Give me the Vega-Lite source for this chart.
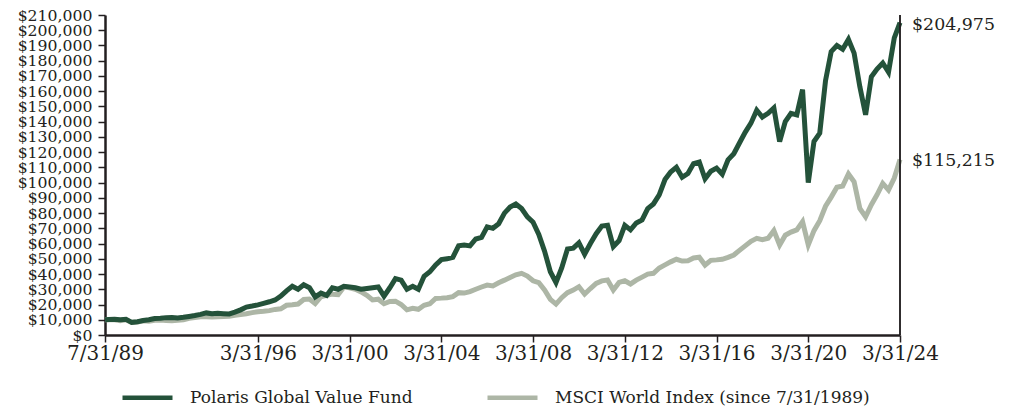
{
  "$schema": "https://vega.github.io/schema/vega-lite/v6.json",
  "width": 795,
  "height": 320,
  "autosize": "none",
  "padding": {"left": 105, "top": 15, "right": 111, "bottom": 74},
  "background": "white",
  "config": {
    "view": {"stroke": null},
    "font": "DejaVu Serif",
    "axis": {"labelFont": "DejaVu Serif", "labelColor": "#231f20", "tickColor": "#231f20", "domainColor": "#231f20", "domainWidth": 2.5, "tickWidth": 1.5, "tickSize": 7, "grid": false, "labelFlush": false, "labelOverlap": false, "title": null},
    "axisX": {"labelFontSize": 20, "labelPadding": 1},
    "axisY": {"labelFontSize": 15.7, "labelPadding": 6}
  },
  "datasets": {
    "q": [
      {"d":"1989-07-31","m":10000,"p":10000},
      {"d":"1989-09-30","m":10100,"p":10200},
      {"d":"1989-12-31","m":10000,"p":10300},
      {"d":"1990-03-31","m":9400,"p":10000},
      {"d":"1990-06-30","m":10000,"p":10300},
      {"d":"1990-09-30","m":8200,"p":8300},
      {"d":"1990-12-31","m":8500,"p":8700},
      {"d":"1991-03-31","m":9300,"p":9500},
      {"d":"1991-06-30","m":9100,"p":10000},
      {"d":"1991-09-30","m":9700,"p":10800},
      {"d":"1991-12-31","m":9800,"p":11000},
      {"d":"1992-03-31","m":9500,"p":11400},
      {"d":"1992-06-30","m":9400,"p":11500},
      {"d":"1992-09-30","m":9700,"p":11100},
      {"d":"1992-12-31","m":10000,"p":11600},
      {"d":"1993-03-31","m":11000,"p":12200},
      {"d":"1993-06-30","m":11500,"p":12800},
      {"d":"1993-09-30","m":12000,"p":13500},
      {"d":"1993-12-31","m":12000,"p":14500},
      {"d":"1994-03-31","m":11800,"p":14000},
      {"d":"1994-06-30","m":12000,"p":14200},
      {"d":"1994-09-30","m":12200,"p":14000},
      {"d":"1994-12-31","m":12300,"p":13800},
      {"d":"1995-03-31","m":13000,"p":15000},
      {"d":"1995-06-30","m":13500,"p":16500},
      {"d":"1995-09-30","m":14000,"p":18300},
      {"d":"1995-12-31","m":14700,"p":19000},
      {"d":"1996-03-31","m":15300,"p":19800},
      {"d":"1996-06-30","m":15600,"p":20800},
      {"d":"1996-09-30","m":16000,"p":21800},
      {"d":"1996-12-31","m":16800,"p":23000},
      {"d":"1997-03-31","m":17200,"p":25500},
      {"d":"1997-06-30","m":19500,"p":29000},
      {"d":"1997-09-30","m":19800,"p":32000},
      {"d":"1997-12-31","m":20300,"p":30000},
      {"d":"1998-03-31","m":23300,"p":33000},
      {"d":"1998-06-30","m":23600,"p":31000},
      {"d":"1998-09-30","m":20600,"p":25000},
      {"d":"1998-12-31","m":25100,"p":27500},
      {"d":"1999-03-31","m":26000,"p":26000},
      {"d":"1999-06-30","m":26800,"p":31000},
      {"d":"1999-09-30","m":26500,"p":30000},
      {"d":"1999-12-31","m":31500,"p":32000},
      {"d":"2000-03-31","m":31000,"p":31500},
      {"d":"2000-06-30","m":30000,"p":31000},
      {"d":"2000-09-30","m":28300,"p":30000},
      {"d":"2000-12-31","m":26000,"p":30500},
      {"d":"2001-03-31","m":23000,"p":31000},
      {"d":"2001-06-30","m":23500,"p":31500},
      {"d":"2001-09-30","m":20500,"p":25500},
      {"d":"2001-12-31","m":22000,"p":31000},
      {"d":"2002-03-31","m":22200,"p":37000},
      {"d":"2002-06-30","m":20000,"p":36000},
      {"d":"2002-09-30","m":16500,"p":30000},
      {"d":"2002-12-31","m":17500,"p":32000},
      {"d":"2003-03-31","m":16900,"p":30000},
      {"d":"2003-06-30","m":19500,"p":38500},
      {"d":"2003-09-30","m":20500,"p":41500},
      {"d":"2003-12-31","m":24000,"p":46000},
      {"d":"2004-03-31","m":24200,"p":49500},
      {"d":"2004-06-30","m":24500,"p":50000},
      {"d":"2004-09-30","m":25200,"p":51000},
      {"d":"2004-12-31","m":27800,"p":58500},
      {"d":"2005-03-31","m":27500,"p":59000},
      {"d":"2005-06-30","m":28500,"p":58500},
      {"d":"2005-09-30","m":30000,"p":63000},
      {"d":"2005-12-31","m":31500,"p":64000},
      {"d":"2006-03-31","m":32800,"p":71000},
      {"d":"2006-06-30","m":32200,"p":70000},
      {"d":"2006-09-30","m":34300,"p":73000},
      {"d":"2006-12-31","m":36000,"p":80000},
      {"d":"2007-03-31","m":37800,"p":84000},
      {"d":"2007-06-30","m":39500,"p":86000},
      {"d":"2007-09-30","m":40500,"p":83000},
      {"d":"2007-12-31","m":38700,"p":77500},
      {"d":"2008-03-31","m":35600,"p":74000},
      {"d":"2008-06-30","m":34300,"p":66000},
      {"d":"2008-09-30","m":29500,"p":55000},
      {"d":"2008-12-31","m":23400,"p":41500},
      {"d":"2009-03-31","m":20300,"p":34500},
      {"d":"2009-06-30","m":24500,"p":44000},
      {"d":"2009-09-30","m":27800,"p":56500},
      {"d":"2009-12-31","m":29500,"p":57000},
      {"d":"2010-03-31","m":31700,"p":60500},
      {"d":"2010-06-30","m":26900,"p":53000},
      {"d":"2010-09-30","m":30500,"p":60000},
      {"d":"2010-12-31","m":33900,"p":66500},
      {"d":"2011-03-31","m":35500,"p":71500},
      {"d":"2011-06-30","m":36100,"p":72000},
      {"d":"2011-09-30","m":29500,"p":58000},
      {"d":"2011-12-31","m":34500,"p":62000},
      {"d":"2012-03-31","m":35600,"p":72000},
      {"d":"2012-06-30","m":33500,"p":69000},
      {"d":"2012-09-30","m":36000,"p":73500},
      {"d":"2012-12-31","m":38000,"p":75500},
      {"d":"2013-03-31","m":40000,"p":83000},
      {"d":"2013-06-30","m":40500,"p":86000},
      {"d":"2013-09-30","m":44000,"p":92000},
      {"d":"2013-12-31","m":46000,"p":102000},
      {"d":"2014-03-31","m":48000,"p":107000},
      {"d":"2014-06-30","m":49700,"p":110000},
      {"d":"2014-09-30","m":48500,"p":103500},
      {"d":"2014-12-31","m":48700,"p":106000},
      {"d":"2015-03-31","m":50500,"p":112500},
      {"d":"2015-06-30","m":51000,"p":113500},
      {"d":"2015-09-30","m":45900,"p":102500},
      {"d":"2015-12-31","m":49000,"p":107500},
      {"d":"2016-03-31","m":49300,"p":109500},
      {"d":"2016-06-30","m":49700,"p":105500},
      {"d":"2016-09-30","m":51000,"p":115000},
      {"d":"2016-12-31","m":52500,"p":119000},
      {"d":"2017-03-31","m":55500,"p":126000},
      {"d":"2017-06-30","m":58500,"p":133000},
      {"d":"2017-09-30","m":61500,"p":139000},
      {"d":"2017-12-31","m":63400,"p":147500},
      {"d":"2018-03-31","m":62500,"p":143000},
      {"d":"2018-06-30","m":63500,"p":145500},
      {"d":"2018-09-30","m":68500,"p":149000},
      {"d":"2018-12-31","m":59100,"p":127000},
      {"d":"2019-03-31","m":65500,"p":140000},
      {"d":"2019-06-30","m":67500,"p":145500},
      {"d":"2019-09-30","m":69000,"p":144500},
      {"d":"2019-12-31","m":74400,"p":161000},
      {"d":"2020-03-31","m":59100,"p":100000},
      {"d":"2020-06-30","m":68500,"p":127000},
      {"d":"2020-09-30","m":75000,"p":132500},
      {"d":"2020-12-31","m":84500,"p":167000},
      {"d":"2021-03-31","m":90500,"p":186000},
      {"d":"2021-06-30","m":97000,"p":190000},
      {"d":"2021-09-30","m":97800,"p":187500},
      {"d":"2021-12-31","m":105700,"p":194000},
      {"d":"2022-03-31","m":100600,"p":185000},
      {"d":"2022-06-30","m":83100,"p":163000},
      {"d":"2022-09-30","m":77600,"p":144500},
      {"d":"2022-12-31","m":85500,"p":169500},
      {"d":"2023-03-31","m":92000,"p":174500},
      {"d":"2023-06-30","m":99500,"p":178500},
      {"d":"2023-09-30","m":95200,"p":172500},
      {"d":"2023-12-31","m":103000,"p":195000},
      {"d":"2024-03-31","m":115215,"p":204975}
    ],
    "ends": [
      {"d":"2024-03-31","value":204975},
      {"d":"2024-03-31","value":115215}
    ]
  },
  "layer": [
    {
      "data": {"name": "q"},
      "transform": [{"fold": ["m", "p"], "as": ["k", "value"]}, {"filter": "datum.k == 'm'"}],
      "mark": {"type": "line", "strokeWidth": 5, "strokeJoin": "miter"},
      "encoding": {
        "x": {
          "field": "d", "type": "temporal",
          "scale": {"type": "utc", "domain": [{"year":1989,"month":7,"date":31,"utc":true},{"year":2024,"month":3,"date":31,"utc":true}]},
          "axis": {
            "values": [
              {"year":1989,"month":7,"date":31,"utc":true},
              {"year":1996,"month":3,"date":31,"utc":true},
              {"year":2000,"month":3,"date":31,"utc":true},
              {"year":2004,"month":3,"date":31,"utc":true},
              {"year":2008,"month":3,"date":31,"utc":true},
              {"year":2012,"month":3,"date":31,"utc":true},
              {"year":2016,"month":3,"date":31,"utc":true},
              {"year":2020,"month":3,"date":31,"utc":true},
              {"year":2024,"month":3,"date":31,"utc":true}
            ],
            "format": "%-m/%d/%y"
          }
        },
        "y": {
          "field": "value", "type": "quantitative",
          "scale": {"domain": [0, 210000], "nice": false, "zero": true},
          "axis": {
            "values": [0,10000,20000,30000,40000,50000,60000,70000,80000,90000,100000,110000,120000,130000,140000,150000,160000,170000,180000,190000,200000,210000],
            "format": "$,.0f"
          }
        },
        "color": {
          "datum": "MSCI World Index (since 7/31/1989)", "type": "nominal",
          "scale": {"domain": ["Polaris Global Value Fund", "MSCI World Index (since 7/31/1989)"], "range": ["#24523a", "#adb6a6"]},
          "legend": {
            "title": null, "orient": "none", "legendX": 15, "legendY": 355,
            "direction": "horizontal", "symbolType": "stroke", "symbolSize": 2500,
            "symbolStrokeWidth": 4.5, "labelFont": "DejaVu Serif", "labelFontSize": 17,
            "labelColor": "#231f20", "labelOffset": 15, "columnPadding": 65, "labelLimit": 500
          }
        }
      }
    },
    {
      "data": {"name": "q"},
      "transform": [{"fold": ["m", "p"], "as": ["k", "value"]}, {"filter": "datum.k == 'p'"}],
      "mark": {"type": "line", "strokeWidth": 5, "strokeJoin": "miter"},
      "encoding": {
        "x": {
          "field": "d", "type": "temporal",
          "axis": {
            "values": [
              {"year":1989,"month":7,"date":31,"utc":true},
              {"year":1996,"month":3,"date":31,"utc":true},
              {"year":2000,"month":3,"date":31,"utc":true},
              {"year":2004,"month":3,"date":31,"utc":true},
              {"year":2008,"month":3,"date":31,"utc":true},
              {"year":2012,"month":3,"date":31,"utc":true},
              {"year":2016,"month":3,"date":31,"utc":true},
              {"year":2020,"month":3,"date":31,"utc":true},
              {"year":2024,"month":3,"date":31,"utc":true}
            ],
            "format": "%-m/%d/%y"
          }
        },
        "y": {
          "field": "value", "type": "quantitative",
          "axis": {
            "values": [0,10000,20000,30000,40000,50000,60000,70000,80000,90000,100000,110000,120000,130000,140000,150000,160000,170000,180000,190000,200000,210000],
            "format": "$,.0f"
          }
        },
        "color": {"datum": "Polaris Global Value Fund", "type": "nominal"}
      }
    },
    {
      "data": {"name": "ends"},
      "mark": {"type": "rule", "color": "#231f20", "strokeWidth": 1.5},
      "encoding": {
        "x": {
          "field": "d", "type": "temporal",
          "axis": {
            "values": [
              {"year":1989,"month":7,"date":31,"utc":true},
              {"year":1996,"month":3,"date":31,"utc":true},
              {"year":2000,"month":3,"date":31,"utc":true},
              {"year":2004,"month":3,"date":31,"utc":true},
              {"year":2008,"month":3,"date":31,"utc":true},
              {"year":2012,"month":3,"date":31,"utc":true},
              {"year":2016,"month":3,"date":31,"utc":true},
              {"year":2020,"month":3,"date":31,"utc":true},
              {"year":2024,"month":3,"date":31,"utc":true}
            ],
            "format": "%-m/%d/%y"
          }
        }
      }
    },
    {
      "data": {"name": "ends"},
      "mark": {"type": "text", "align": "left", "baseline": "middle", "dx": 12, "dy": 2, "font": "DejaVu Serif", "fontSize": 17.4, "color": "#231f20"},
      "encoding": {
        "x": {
          "field": "d", "type": "temporal",
          "axis": {
            "values": [
              {"year":1989,"month":7,"date":31,"utc":true},
              {"year":1996,"month":3,"date":31,"utc":true},
              {"year":2000,"month":3,"date":31,"utc":true},
              {"year":2004,"month":3,"date":31,"utc":true},
              {"year":2008,"month":3,"date":31,"utc":true},
              {"year":2012,"month":3,"date":31,"utc":true},
              {"year":2016,"month":3,"date":31,"utc":true},
              {"year":2020,"month":3,"date":31,"utc":true},
              {"year":2024,"month":3,"date":31,"utc":true}
            ],
            "format": "%-m/%d/%y"
          }
        },
        "y": {
          "field": "value", "type": "quantitative",
          "axis": {
            "values": [0,10000,20000,30000,40000,50000,60000,70000,80000,90000,100000,110000,120000,130000,140000,150000,160000,170000,180000,190000,200000,210000],
            "format": "$,.0f"
          }
        },
        "text": {"field": "value", "type": "quantitative", "format": "$,.0f"}
      }
    }
  ]
}
